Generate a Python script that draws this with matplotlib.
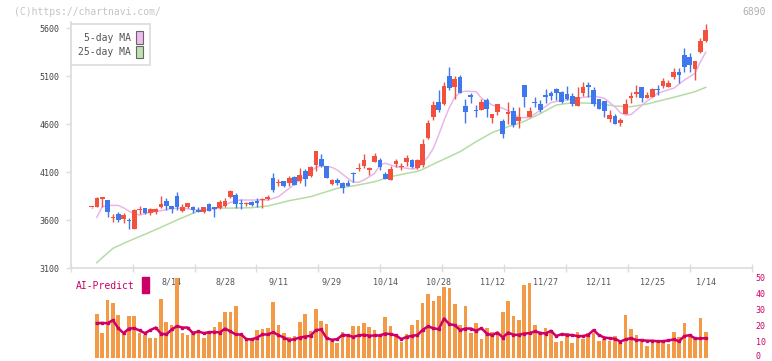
import matplotlib
matplotlib.use("Agg")
import matplotlib.pyplot as plt
from matplotlib.patches import Patch, Rectangle
from matplotlib.transforms import ScaledTranslation
import numpy as np

# daily candles, oldest first (index 0 .. 115)
opens = [3735, 3742, 3819, 3811, 3625, 3666, 3610, 3603, 3512, 3710,
         3728, 3676, 3688, 3739, 3804, 3749, 3853, 3700, 3735, 3742,
         3707, 3686, 3770, 3735, 3728, 3749, 3846, 3863, 3784, 3766,
         3794, 3801, 3812, 3822, 4040, 3990, 4009, 3985, 4054, 4012,
         4117, 4065, 4179, 4236, 4166, 3978, 4020, 3992, 3992, 4096,
         4138, 4169, 4124, 4204, 4228, 4082, 4020, 4186, 4150, 4211,
         4228, 4142, 4176, 4454, 4680, 4829, 4808, 5103, 4992, 5089,
         4790, 4905, 4749, 4749, 4853, 4669, 4732, 4638, 4704, 4739,
         4634, 5009, 4680, 4832, 4811, 4905, 4929, 4964, 4933, 4915,
         4895, 4794, 4929, 5009, 4957, 4864, 4843, 4655, 4686, 4617,
         4707, 4877, 4912, 4988, 4877, 4888, 4960, 5002, 4992, 5096,
         5141, 5322, 5301, 5176, 5350, 5467]
highs = [3738, 3840, 3845, 3815, 3666, 3686, 3676, 3620, 3717, 3749,
         3730, 3728, 3728, 3853, 3829, 3752, 3895, 3773, 3785, 3752,
         3742, 3740, 3780, 3740, 3811, 3829, 3915, 3881, 3822, 3790,
         3798, 3836, 3836, 3863, 4096, 4025, 4012, 4060, 4058, 4147,
         4130, 4168, 4325, 4290, 4168, 4030, 4037, 4002, 4020, 4103,
         4192, 4290, 4158, 4304, 4245, 4106, 4165, 4235, 4192, 4280,
         4240, 4235, 4443, 4640, 4846, 4957, 5040, 5200, 5103, 5113,
         4860, 4926, 4801, 4860, 4870, 4707, 4811, 4652, 4836, 4780,
         4784, 5009, 4784, 4881, 4850, 4970, 4950, 4975, 4945, 5000,
         4930, 4985, 5040, 5044, 4992, 4864, 4843, 4749, 4707, 4669,
         4860, 4933, 5009, 4988, 4933, 4978, 5009, 5078, 5065, 5189,
         5183, 5398, 5340, 5259, 5495, 5642]
lows = [3732, 3740, 3742, 3631, 3585, 3585, 3572, 3512, 3505, 3662,
        3662, 3651, 3670, 3728, 3707, 3673, 3707, 3690, 3728, 3676,
        3683, 3680, 3700, 3638, 3721, 3742, 3835, 3725, 3718, 3750,
        3745, 3742, 3730, 3815, 3895, 3960, 3946, 3960, 3968, 3985,
        3960, 4055, 4117, 4160, 4044, 3970, 3968, 3888, 3960, 4002,
        4110, 4142, 4072, 4204, 4124, 4030, 4020, 4152, 4124, 4166,
        4145, 4135, 4160, 4443, 4645, 4732, 4800, 4957, 4860, 4923,
        4617, 4822, 4673, 4749, 4673, 4617, 4697, 4461, 4600, 4575,
        4565, 4784, 4675, 4784, 4725, 4822, 4850, 4850, 4822, 4850,
        4790, 4794, 4898, 4888, 4794, 4759, 4680, 4624, 4603, 4586,
        4707, 4822, 4888, 4836, 4870, 4885, 4905, 4978, 4985, 5068,
        5027, 5141, 5141, 5061, 5340, 5454]
closes = [3736, 3829, 3840, 3690, 3635, 3603, 3655, 3590, 3707, 3718,
          3676, 3718, 3718, 3770, 3752, 3721, 3735, 3742, 3777, 3707,
          3683, 3735, 3700, 3718, 3788, 3804, 3905, 3770, 3766, 3784,
          3759, 3777, 3822, 3846, 3915, 4000, 3960, 4037, 3968, 4071,
          4030, 4158, 4322, 4166, 4044, 4020, 3985, 3940, 3960, 4082,
          4146, 4228, 4148, 4273, 4152, 4030, 4134, 4221, 4166, 4252,
          4152, 4228, 4395, 4610, 4801, 4749, 4999, 4981, 5072, 4923,
          4732, 4885, 4735, 4836, 4756, 4707, 4811, 4496, 4732, 4593,
          4673, 4888, 4742, 4826, 4749, 4888, 4892, 4923, 4836, 4864,
          4808, 4885, 4990, 4985, 4808, 4759, 4739, 4697, 4603, 4645,
          4808, 4898, 4933, 4877, 4905, 4968, 4954, 5051, 5027, 5141,
          5113, 5200, 5218, 5259, 5467, 5582]

# moving averages (candle index, price)
ma5_idx = [1, 2, 3, 5, 6, 7, 8, 9, 11, 13, 15, 17, 19, 21, 23, 24, 25, 26, 27, 28,
           33, 35, 37, 39, 41, 42, 43, 45, 46, 48, 49, 50, 51, 53, 54, 55, 57, 60,
           61, 62, 63, 64, 65, 66, 67, 68, 69, 70, 72, 73, 75, 77, 79, 80, 82, 84,
           86, 88, 90, 92, 94, 96, 98, 99, 100, 101, 102, 104, 106, 108, 109, 111,
           113, 114, 115]
ma5 = [3631, 3742, 3755, 3755, 3730, 3695, 3668, 3655, 3685, 3700, 3722, 3727,
       3712, 3705, 3718, 3725, 3760, 3785, 3805, 3811, 3811, 3846, 3933, 4020,
       4106, 4150, 4166, 4152, 4124, 4037, 3996, 3996, 4020, 4089, 4176, 4194,
       4158, 4134, 4140, 4200, 4260, 4350, 4490, 4640, 4775, 4880, 4935, 4945,
       4940, 4871, 4801, 4767, 4714, 4668, 4670, 4745, 4825, 4850, 4860, 4880,
       4895, 4871, 4783, 4720, 4697, 4700, 4749, 4840, 4923, 4960, 4975, 5061,
       5131, 5252, 5350]
ma25_idx = [1, 2, 4, 7, 10, 13, 16, 19, 20, 23, 27, 30, 33, 37, 41, 44, 46, 50,
            53, 56, 59, 61, 62, 65, 69, 72, 75, 78, 81, 84, 87, 90, 93, 95, 98,
            101, 104, 107, 110, 113, 115]
ma25 = [3158, 3210, 3308, 3384, 3454, 3527, 3603, 3673, 3700, 3725, 3728, 3731,
        3749, 3804, 3846, 3898, 3933, 3968, 4002, 4054, 4089, 4110, 4131, 4211,
        4315, 4419, 4513, 4575, 4630, 4710, 4800, 4825, 4820, 4815, 4790, 4783,
        4811, 4853, 4895, 4940, 4985]

# lower panel (starts at candle 1)
volume = [27.0, 15.2, 35.9, 33.9, 26.4, 14.6, 25.8, 25.8, 15.2, 14.2,
          12.1, 12.1, 36.3, 22.0, 20.2, 49.4, 15.2, 14.0, 16.3, 16.3,
          12.1, 16.3, 18.9, 22.0, 28.2, 28.2, 32.0, 14.2, 10.5, 12.1,
          17.1, 17.9, 18.3, 34.5, 20.0, 15.2, 12.9, 13.4, 22.0, 27.0,
          16.5, 30.1, 22.7, 20.8, 10.5, 9.0, 16.0, 14.0, 19.6, 19.6,
          21.4, 19.2, 17.1, 14.2, 25.4, 19.8, 14.6, 9.8, 14.6, 20.2,
          23.3, 33.9, 39.4, 35.1, 38.2, 43.8, 43.2, 33.2, 20.2, 32.0,
          15.2, 21.4, 11.5, 18.3, 15.8, 15.8, 28.3, 35.1, 25.8, 23.3,
          45.0, 46.3, 20.2, 15.8, 18.3, 15.2, 9.8, 10.2, 15.2, 9.0,
          15.8, 11.5, 15.2, 15.2, 10.2, 11.5, 10.2, 13.4, 10.9, 26.4,
          17.7, 14.0, 10.2, 7.1, 9.0, 9.6, 9.6, 8.4, 15.8, 12.7,
          21.4, 14.0, 11.5, 24.5, 15.8]
ai_predict = [21.4, 21.6, 21.4, 23.3, 18.3, 15.2, 18.1, 18.3, 16.9, 15.2,
              17.1, 18.7, 15.0, 14.4, 17.5, 19.6, 18.7, 18.7, 15.2, 16.3,
              15.2, 15.8, 16.0, 15.6, 18.1, 16.3, 14.4, 14.4, 11.5, 11.3,
              12.5, 14.4, 14.4, 15.8, 14.0, 12.5, 10.9, 11.5, 12.5, 13.1,
              13.6, 17.1, 17.5, 12.1, 11.1, 11.5, 14.2, 13.8, 12.9, 13.8,
              14.2, 13.6, 13.8, 13.8, 15.0, 14.6, 13.8, 11.5, 12.9, 13.6,
              14.0, 17.3, 19.4, 18.3, 17.7, 24.3, 20.8, 20.2, 17.1, 18.1,
              18.1, 16.7, 18.3, 15.0, 14.0, 15.6, 12.5, 15.6, 14.2, 14.2,
              15.0, 15.2, 16.3, 15.4, 15.0, 16.7, 13.4, 14.6, 14.2, 14.0,
              13.4, 13.4, 14.2, 17.1, 14.0, 12.5, 12.1, 11.7, 10.0, 11.3,
              12.1, 10.9, 10.9, 10.5, 10.5, 10.2, 10.2, 10.7, 11.3, 10.2,
              13.4, 14.0, 11.9, 11.9, 12.1]

date_idx = [15, 25, 35, 45, 55, 65, 75, 85, 95, 105, 115]
date_labels = ['8/14', '8/28', '9/11', '9/29', '10/14', '10/28',
               '11/12', '11/27', '12/11', '12/25', '1/14']
price_ticks = [3100, 3600, 4100, 4600, 5100, 5600]
pct_ticks = [0, 10, 20, 30, 40, 50]

RED = '#f2513f'
BLUE = '#3f78ec'
GRID = '#dcdcdc'
MAGENTA = '#cc0066'
MONO = 'DejaVu Sans Mono'

W, H = 772, 361
XMIN, XMAX = -3.9, 123.6


def fx(px):
    return px / W


def fy(py):
    return 1 - py / H


fig = plt.figure(figsize=(W / 100, H / 100), dpi=100)
ax = fig.add_axes([fx(70.7), fy(268.3), fx(681), 245.8 / H])
vax = fig.add_axes([fx(70.7), fy(357.6), fx(681), 80.3 / H])
vax.patch.set_visible(False)

# ---- price panel ----
idx = np.arange(len(closes))
o = np.array(opens)
c = np.array(closes)
up = c >= o
cols = np.where(up, RED, BLUE)
bottom = np.minimum(o, c)
height = np.maximum(np.abs(c - o), 10)

ax.plot(ma25_idx, ma25, color='#b6dca4', lw=1.1, zorder=1)
ax.plot(ma5_idx, ma5, color='#eab6ea', lw=1.1, zorder=1)
ax.vlines(idx, lows, highs, colors=cols, lw=1.0, zorder=2)
ax.bar(idx, height, bottom=bottom, width=0.88, color=cols, zorder=3)

ax.set_xlim(XMIN, XMAX)
ax.set_ylim(3100, 5660)
for s in ['top', 'right']:
    ax.spines[s].set_visible(False)
for s in ['left', 'bottom']:
    ax.spines[s].set_color(GRID)
    ax.spines[s].set_linewidth(1.2)

ax.set_yticks(price_ticks)
ax.set_yticklabels([str(v) for v in price_ticks], fontsize=6, family=MONO, color='#444')
ax.tick_params(axis='y', length=3.6, width=1, color=GRID, pad=4.6)

ax.set_xticks(date_idx)
ax.set_xticklabels(date_labels, fontsize=6, family=MONO, color='#555')
ax.tick_params(axis='x', which='major', length=0, pad=6.5)
ax.set_xticks(np.linspace(XMIN, XMAX, 12), minor=True)
ax.tick_params(axis='x', which='minor', direction='inout', length=6, width=1, color=GRID)

handles = [Patch(facecolor='#eebcee', edgecolor='#666666', lw=0.8),
           Patch(facecolor='#bfe0b0', edgecolor='#666666', lw=0.8)]
leg = ax.legend(handles, ['5-day MA', '25-day MA'], loc='upper left',
                bbox_to_anchor=(0, 0.994), borderaxespad=0, markerfirst=False,
                prop={'family': MONO, 'size': 7}, labelcolor='#555555',
                handlelength=0.66, handleheight=1.62, handletextpad=0.55,
                labelspacing=0.17, borderpad=0.75, fancybox=False,
                edgecolor=GRID, framealpha=1)
leg.get_frame().set_linewidth(1.2)

# ---- AI-Predict panel ----
vidx = np.arange(1, len(volume) + 1)
vax.bar(vidx, volume, width=0.68, color='#f39a46', zorder=2)
vax.plot(vidx, ai_predict, color=MAGENTA, lw=1.8, marker='s', ms=1.6, zorder=3)
vax.set_xlim(XMIN, XMAX)
vax.set_ylim(0, 50)
for s in vax.spines.values():
    s.set_visible(False)
vax.set_xticks([])
vax.yaxis.tick_right()
vax.set_yticks(pct_ticks)
vax.set_yticklabels([str(v) for v in pct_ticks], fontsize=6, family=MONO, color=MAGENTA)
vax.tick_params(axis='y', length=0, pad=3)
# keep the bottom "0" inside the picture
zero_lbl = vax.get_yticklabels()[0]
zero_lbl.set_transform(zero_lbl.get_transform()
                       + ScaledTranslation(0, 2.5 / 100, fig.dpi_scale_trans))

fig.text(fx(75.7), fy(286), 'AI-Predict', fontsize=7, family=MONO,
         color=MAGENTA, va='center')
fig.add_artist(Rectangle((fx(142.3), fy(292.7)), fx(6.7), 15.4 / H,
                         transform=fig.transFigure, color=MAGENTA))

fig.text(fx(14), fy(12), '(C)https://chartnavi.com/', fontsize=7, family=MONO,
         color='#c4c4c4', va='center')
fig.text(fx(766), fy(12), '6890', fontsize=7, family=MONO,
         color='#b0b0b0', va='center', ha='right')

fig.savefig('out.png', dpi=100)
